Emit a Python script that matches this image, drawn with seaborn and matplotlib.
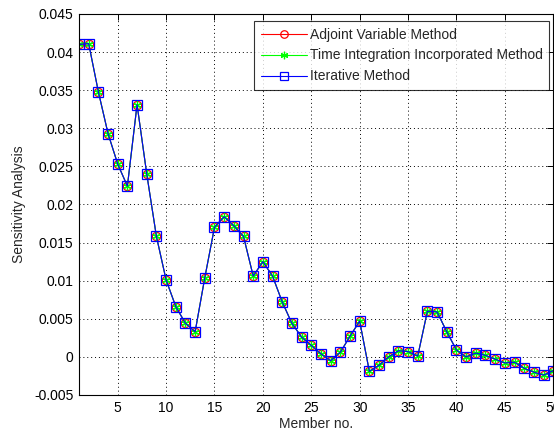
import matplotlib
matplotlib.use("Agg")
import matplotlib.pyplot as plt
import seaborn as sns
import pandas as pd

# Member numbers and sensitivity values per method
members = list(range(1, 51))
adjoint_variable = [
    0.0410, 0.0411, 0.0348, 0.0293, 0.0253, 0.0224, 0.0331, 0.0240, 0.0158, 0.0101,
    0.0066, 0.0044, 0.0033, 0.0104, 0.0170, 0.0184, 0.0172, 0.0158, 0.0106, 0.0125,
    0.0106, 0.0072, 0.0044, 0.0026, 0.0015, 0.0004, -0.0005, 0.0006, 0.0027, 0.0047,
    -0.0019, -0.0011, 0.0000, 0.0008, 0.0007, 0.0001, 0.0060, 0.0059, 0.0033, 0.0009,
    0.0000, 0.0005, 0.0002, -0.0003, -0.0008, -0.0007, -0.0015, -0.0020, -0.0024, -0.0018,
]
time_integration = list(adjoint_variable)
iterative = list(adjoint_variable)

series_names = ["Adjoint Variable Method", "Time Integration Incorporated Method", "Iterative Method"]
y_ticks = [-0.005, 0, 0.005, 0.01, 0.015, 0.02, 0.025, 0.03, 0.035, 0.04, 0.045]
y_tick_labels = ["-0.005", "0", "0.005", "0.01", "0.015", "0.02", "0.025", "0.03", "0.035", "0.04", "0.045"]
x_ticks = [5, 10, 15, 20, 25, 30, 35, 40, 45, 50]

sns.set_style("white")
plt.rcParams["font.family"] = ["Liberation Sans", "DejaVu Sans"]
plt.rcParams["font.size"] = 10

df = pd.DataFrame({
    "member": members * 3,
    "value": adjoint_variable + time_integration + iterative,
    "method": [series_names[0]] * 50 + [series_names[1]] * 50 + [series_names[2]] * 50,
})

fig = plt.figure(figsize=(5.54, 4.34), dpi=100)
ax = fig.add_axes([0.1426, 0.0899, 0.856, 0.878])

styles = {
    series_names[0]: dict(color="#ff0000", marker="o", markerfacecolor="none",
                          markeredgecolor="#ff0000", markersize=6),
    series_names[1]: dict(color="#00ff00", marker=(6, 2, 0), markerfacecolor="#00ff00",
                          markeredgecolor="#00ff00", markersize=6),
    series_names[2]: dict(color="#0000ff", marker="s", markerfacecolor="none",
                          markeredgecolor="#0000ff", markersize=7),
}
for name in series_names:
    sub = df[df["method"] == name]
    sns.lineplot(data=sub, x="member", y="value", ax=ax, label=name,
                 linewidth=0.8, markeredgewidth=0.9, **styles[name])

ax.set_xlim(1, 50)
ax.set_ylim(-0.005, 0.045)
ax.set_xticks(x_ticks)
ax.set_xticklabels([str(t) for t in x_ticks])
ax.set_yticks(y_ticks)
ax.set_yticklabels(y_tick_labels)
ax.set_xlabel("Member no.", labelpad=2)
ax.set_ylabel("Sensitivity Analysis", labelpad=6)

ax.grid(True, linestyle=(0, (1, 3)), color="black", linewidth=0.7)
ax.tick_params(direction="in", top=True, right=True, length=4, width=0.7,
               labelsize=10, colors="black", pad=4)
for sp in ax.spines.values():
    sp.set_color("black")
    sp.set_linewidth(0.8)

leg = ax.legend(loc="upper right", bbox_to_anchor=(1.006, 0.999), frameon=True,
                fancybox=False, edgecolor="black", handlelength=3.3,
                borderpad=0.45, labelspacing=0.5, handletextpad=0.25,
                fontsize=10, markerscale=0.9)
leg.get_frame().set_linewidth(0.8)

fig.savefig("out.png", dpi=100)
